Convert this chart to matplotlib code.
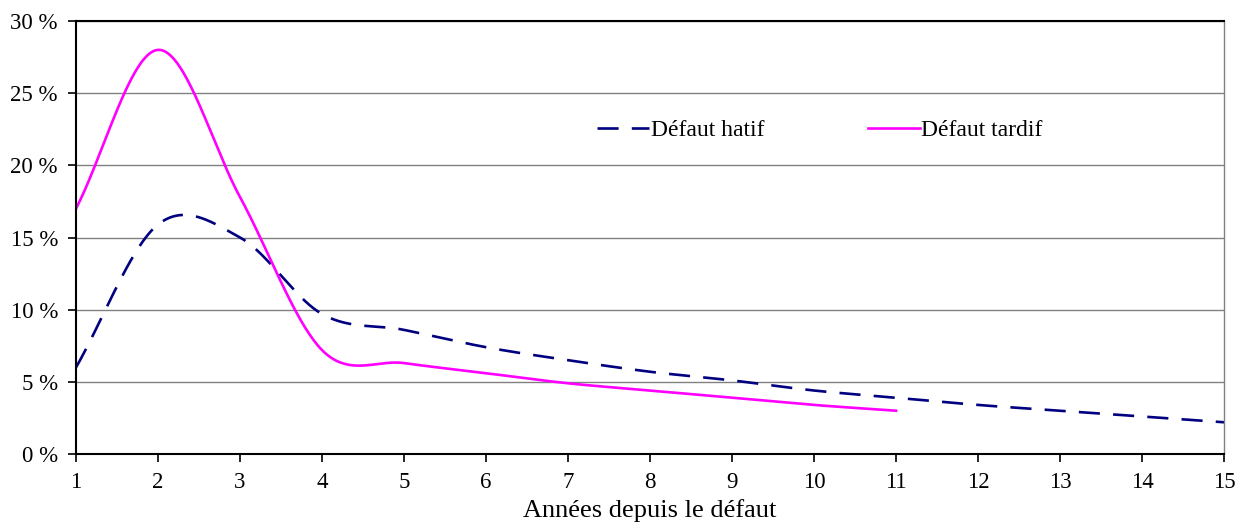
import numpy as np
import matplotlib.pyplot as plt
from matplotlib.ticker import FuncFormatter

plt.rcParams["font.family"] = ["Liberation Serif", "DejaVu Serif"]

years_hatif = [1, 2, 3, 4, 5, 6, 7, 8, 9, 10, 11, 12, 13, 14, 15]
hatif = [6.0, 15.9, 15.0, 9.7, 8.6, 7.4, 6.5, 5.7, 5.1, 4.4, 3.9, 3.4, 3.0, 2.6, 2.2]

years_tardif = [1, 2, 3, 4, 5, 6, 7, 8, 9, 10, 11]
tardif = [17.0, 28.0, 17.8, 7.2, 6.3, 5.6, 4.9, 4.4, 3.9, 3.4, 3.0]


def smooth(x, y, n=40):
    # Catmull-Rom style smoothing, like spreadsheet "smoothed line"
    x = np.asarray(x, float)
    y = np.asarray(y, float)
    xs, ys = [], []
    for i in range(len(x) - 1):
        p0 = y[i - 1] if i > 0 else y[i]
        p3 = y[i + 2] if i + 2 < len(y) else y[i + 1]
        m1 = (y[i + 1] - p0) / (2 if i > 0 else 1)
        m2 = (p3 - y[i]) / (2 if i + 2 < len(y) else 1)
        t = np.linspace(0, 1, n)
        h00 = 2 * t**3 - 3 * t**2 + 1
        h10 = t**3 - 2 * t**2 + t
        h01 = -2 * t**3 + 3 * t**2
        h11 = t**3 - t**2
        xs.append(x[i] + t * (x[i + 1] - x[i]))
        ys.append(h00 * y[i] + h10 * m1 + h01 * y[i + 1] + h11 * m2)
    return np.concatenate(xs), np.concatenate(ys)


fig = plt.figure(figsize=(12.44, 5.25), dpi=100)
ax = fig.add_axes([0.0611, 0.1352, 0.9229, 0.8248])

xh, yh = smooth(years_hatif, hatif)
xt, yt = smooth(years_tardif, tardif)
ax.plot(xh, yh, color="#000080", lw=1.9, dashes=(8, 5), label="Défaut hatif")
ax.plot(xt, yt, color="#FF00FF", lw=1.9, label="Défaut tardif")

ax.set_xlim(1, 15)
ax.set_ylim(0, 30)
ax.set_xticks(range(1, 16))
ax.set_yticks(range(0, 31, 5))
ax.yaxis.set_major_formatter(FuncFormatter(lambda v, p: f"{int(v)} %"))
ax.grid(axis="y", color="#808080", lw=1)
ax.set_axisbelow(True)
for s in ["left", "bottom", "top"]:
    ax.spines[s].set_color("black")
    ax.spines[s].set_linewidth(1.5)
ax.spines["right"].set_color("#808080")
ax.spines["right"].set_linewidth(1)
ax.tick_params(direction="out", length=6, width=1.2, labelsize=16.5, pad=7)
ax.set_xlabel("Années depuis le défaut", fontsize=19, labelpad=4)

ax.legend(loc="center", bbox_to_anchor=(0.648, 0.748), ncol=2, frameon=False,
          fontsize=17, handlelength=2.2, columnspacing=4.4, handletextpad=0.05)

fig.savefig("out.png", dpi=100)
